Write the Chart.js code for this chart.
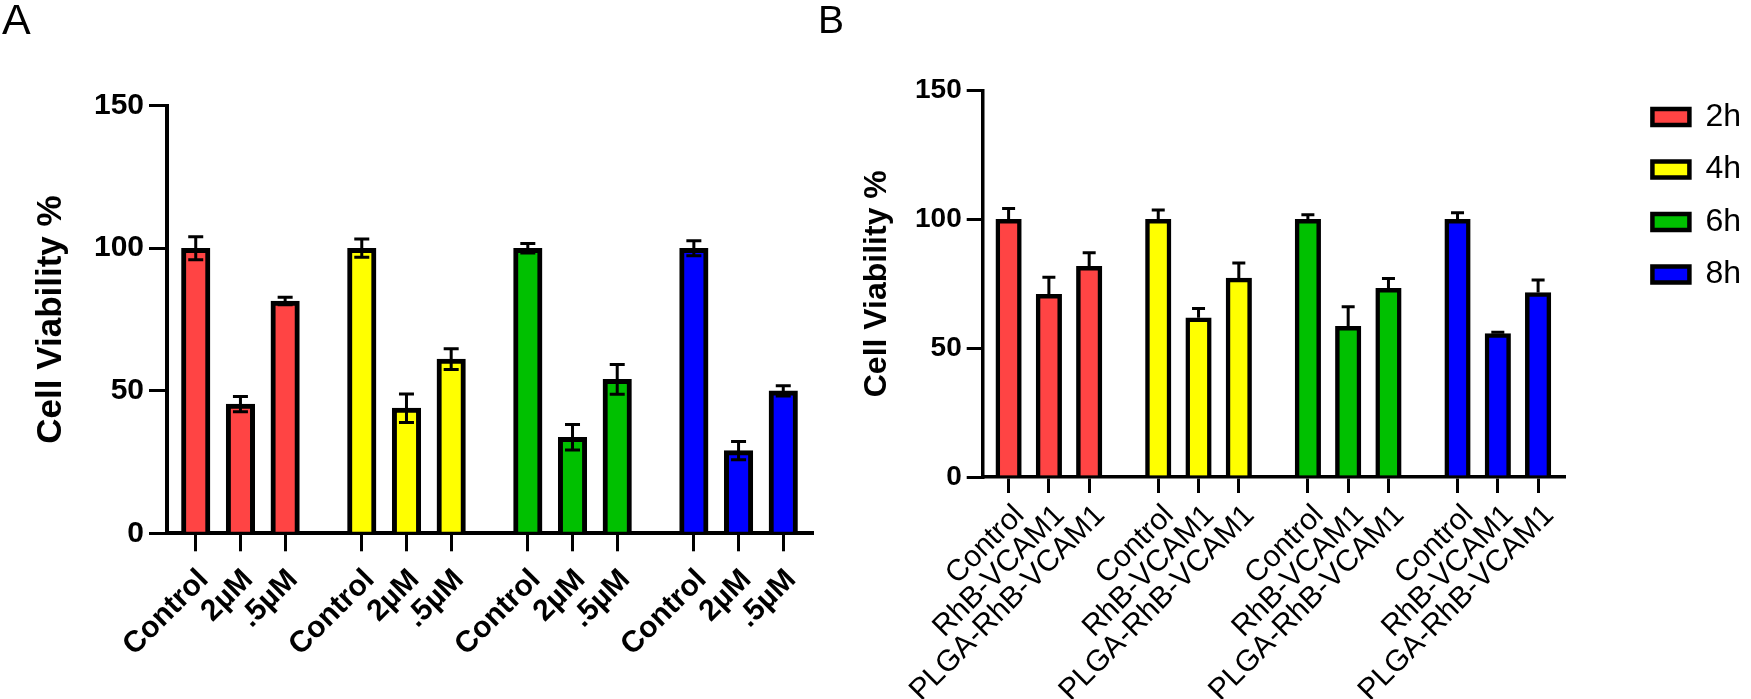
<!DOCTYPE html>
<html>
<head>
<meta charset="utf-8">
<script src="https://cdn.jsdelivr.net/npm/chart.js@4.4.1/dist/chart.umd.min.js"></script>
<style>
  html, body { margin: 0; padding: 0; background: #fff; }
  #wrap { position: relative; width: 1751px; height: 699px; overflow: hidden; background: #fff; }
  canvas { position: absolute; top: 0; }
  #cA { left: 0; }
  #cB { left: 810px; }
  .panel { position: absolute; font-family: "Liberation Sans", Arial, sans-serif; line-height: 1; color: #000; }
  #labA { left: 2px; top: -2px; font-size: 43px; }
  #labB { left: 818px; top: 0px; font-size: 39px; }
</style>
</head>
<body>
<div id="wrap">
  <canvas id="cA" width="852" height="699"></canvas>
  <canvas id="cB" width="941" height="699"></canvas>
  <div class="panel" id="labA">A</div>
  <div class="panel" id="labB">B</div>
</div>
<script>
// ---------------- data ----------------
const timePoints = ['2h', '4h', '6h', '8h'];

// Panel A
const conditionsA = ['Control', '2µM', '.5µM'];
const meanA_2h = [100, 45.3, 81.5];
const errA_2h  = [4.0, 2.7, 1.3];
const meanA_4h = [100, 43.9, 61.1];
const errA_4h  = [3.2, 5.0, 3.6];
const meanA_6h = [100, 33.7, 54.0];
const errA_6h  = [1.7, 4.5, 5.2];
const meanA_8h = [100, 29.0, 50.0];
const errA_8h  = [2.6, 3.2, 1.8];

// Panel B
const conditionsB = ['Control', 'RhB-VCAM1', 'PLGA-RhB-VCAM1'];
const meanB_2h = [100, 70.9, 81.8];
const errB_2h  = [4.2, 6.6, 5.2];
const meanB_4h = [100, 61.8, 77.2];
const errB_4h  = [3.6, 3.6, 5.9];
const meanB_6h = [100, 58.5, 73.2];
const errB_6h  = [1.8, 7.6, 3.8];
const meanB_8h = [100, 55.7, 71.6];
const errB_8h  = [2.6, 0.5, 4.9];

const yTicks = [0, 50, 100, 150];
const yTitle = 'Cell Viability %';

// ---------------- styles ----------------
const FONT = '"Liberation Sans", Arial, Helvetica, sans-serif';
const fillColors = ['#FF4444', '#FFFF00', '#00C000', '#0000FF'];
Chart.defaults.font.family = FONT;
Chart.defaults.color = '#000';

// category layout: each bar sits in a slot of SUB sub-categories,
// GAP blank sub-categories between time groups, EDGE blanks at both ends
const SUB = 7, GAP = 5, EDGE = 1;
function buildAxis(conditions, nGroups) {
  const labels = [];
  const index = [];
  const blank = (n) => { for (let k = 0; k < n; k++) labels.push(''); };
  blank(EDGE);
  for (let g = 0; g < nGroups; g++) {
    index.push([]);
    conditions.forEach(c => {
      blank((SUB - 1) / 2);
      index[g].push(labels.length);
      labels.push(c);
      blank((SUB - 1) / 2);
    });
    if (g < nGroups - 1) blank(GAP);
  }
  blank(EDGE);
  return { labels, index };
}

function buildDatasets(axis, means, errs, borderWidth, thickness) {
  return timePoints.map((t, g) => {
    const data = new Array(axis.labels.length).fill(null);
    const errors = new Array(axis.labels.length).fill(null);
    axis.index[g].forEach((ci, c) => { data[ci] = means[g][c]; errors[ci] = errs[g][c]; });
    return {
      label: t,
      data: data,
      errors: errors,
      backgroundColor: fillColors[g],
      borderColor: '#000',
      borderWidth: borderWidth,
      borderSkipped: 'start',
      barThickness: thickness,
      grouped: false
    };
  });
}

const errorBars = {
  id: 'errorBars',
  afterDatasetsDraw(chart, args, opts) {
    const ctx = chart.ctx;
    const ys = chart.scales.y;
    ctx.save();
    ctx.strokeStyle = '#000';
    ctx.lineWidth = opts.width;
    ctx.lineCap = 'butt';
    chart.data.datasets.forEach((ds, i) => {
      const meta = chart.getDatasetMeta(i);
      ds.errors.forEach((e, j) => {
        if (e == null || ds.data[j] == null) return;
        const x = meta.data[j].x;
        const v = ds.data[j];
        const yTop = ys.getPixelForValue(v + e);
        const yBot = ys.getPixelForValue(opts.both ? v - e : v);
        ctx.beginPath();
        ctx.moveTo(x, yBot); ctx.lineTo(x, yTop);
        ctx.moveTo(x - opts.cap, yTop); ctx.lineTo(x + opts.cap, yTop);
        if (opts.both) { ctx.moveTo(x - opts.cap, yBot); ctx.lineTo(x + opts.cap, yBot); }
        ctx.stroke();
      });
    });
    ctx.restore();
  }
};

function yAxis(cfg) {
  return {
    min: 0, max: 150,
    afterBuildTicks: s => { s.ticks = yTicks.map(v => ({ value: v })); },
    ticks: { padding: cfg.pad, color: '#000', font: { family: FONT, size: cfg.tick, weight: 'bold' } },
    grid: { display: true, drawOnChartArea: false, drawTicks: true, tickLength: cfg.tl, lineWidth: 3, color: '#000' },
    border: { display: true, color: '#000', width: cfg.bw },
    title: { display: true, text: yTitle, color: '#000', font: { family: FONT, size: cfg.title, weight: 'bold' }, padding: { top: cfg.titlePad, bottom: 0 } },
    afterFit: s => { s.width = cfg.width; }
  };
}

function xAxis(cfg) {
  return {
    z: 1,
    offset: true,
    grid: {
      display: true, drawOnChartArea: false, drawTicks: true, offset: false,
      tickLength: cfg.tl, lineWidth: 3, tickWidth: 3,
      tickColor: c => (c.tick && c.tick.label) ? '#000' : 'rgba(0,0,0,0)',
      color: 'rgba(0,0,0,0)'
    },
    border: { display: true, color: '#000', width: cfg.bw },
    ticks: {
      autoSkip: false, maxRotation: 45, minRotation: 45,
      padding: cfg.pad, labelOffset: cfg.offset, color: '#000',
      font: { family: FONT, size: cfg.size, weight: cfg.weight }
    },
    afterFit: s => { s.height = cfg.height; }
  };
}

// ---------------- Panel A ----------------
const axA = buildAxis(conditionsA, timePoints.length);
new Chart(document.getElementById('cA'), {
  type: 'bar',
  data: {
    labels: axA.labels,
    datasets: buildDatasets(axA, [meanA_2h, meanA_4h, meanA_6h, meanA_8h], [errA_2h, errA_4h, errA_6h, errA_8h], 5, 28.5)
  },
  options: {
    responsive: false, animation: false, devicePixelRatio: 1,
    layout: { padding: { left: 0, right: 40, top: 105.7, bottom: 0 } },
    plugins: {
      legend: { display: false }, tooltip: { enabled: false },
      errorBars: { width: 3, cap: 7.5, both: true }
    },
    scales: {
      x: xAxis({ tl: 18, bw: 4, pad: 11, offset: 8, size: 30, weight: 'bold', height: 699 - 533.3 }),
      y: yAxis({ pad: 5, tick: 30, tl: 18, bw: 4, title: 35, titlePad: 30, width: 167 })
    }
  },
  plugins: [errorBars]
});

// ---------------- Panel B ----------------
const axB = buildAxis(conditionsB, timePoints.length);
new Chart(document.getElementById('cB'), {
  type: 'bar',
  data: {
    labels: axB.labels,
    datasets: buildDatasets(axB, [meanB_2h, meanB_4h, meanB_6h, meanB_8h], [errB_2h, errB_4h, errB_6h, errB_8h], 4.5, 25.5)
  },
  options: {
    responsive: false, animation: false, devicePixelRatio: 1,
    layout: { padding: { left: 0, right: 0, top: 90.5, bottom: 0 } },
    plugins: {
      tooltip: { enabled: false },
      errorBars: { width: 3, cap: 6.5, both: false },
      legend: {
        display: true, position: 'right', align: 'start', fullSize: true,
        labels: {
          boxWidth: 37, boxHeight: 16, padding: 10.5, color: '#000',
          font: { family: FONT, size: 32, lineHeight: 1.3125 },
          generateLabels: chart => Chart.defaults.plugins.legend.labels.generateLabels(chart)
            .map(item => Object.assign(item, { text: [item.text] }))
        }
      }
    },
    scales: {
      x: xAxis({ tl: 16, bw: 3.5, pad: 5, offset: 11, size: 30, weight: 'normal', height: 699 - 477 }),
      y: yAxis({ pad: 5, tick: 28, tl: 16, bw: 3.5, title: 32, titlePad: 47.8, width: 172.7 }),
      y2: {
        position: 'right', display: true,
        grid: { display: false, drawTicks: false }, ticks: { display: false },
        border: { display: false },
        afterFit: s => { s.width = 77.9; }
      }
    }
  },
  plugins: [errorBars]
});
</script>
</body>
</html>
